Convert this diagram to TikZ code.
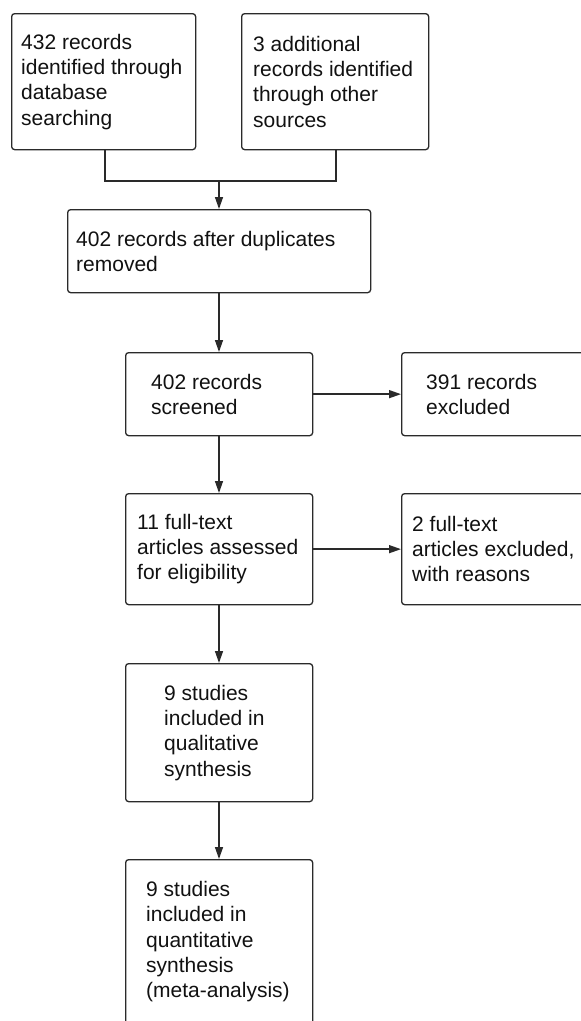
\documentclass[tikz,border=0pt]{standalone}
\usepackage{fontspec}
\setmainfont{Liberation Sans}
\usetikzlibrary{arrows.meta}
\definecolor{ln}{HTML}{2a2a2a}
\definecolor{tx}{HTML}{111111}
\tikzset{
  boxnode/.style={draw=ln, line width=1.3pt, rounded corners=3pt, rectangle, inner sep=0pt, anchor=north west},
  txt/.style={anchor=west, inner sep=0pt, align=left, text=tx, font=\fontsize{21}{25.3}\selectfont},
  conn/.style={draw=ln, line width=1.4pt},
  arr/.style={conn, -{Triangle[length=12pt,width=8pt]}}
}
\newcommand{\mybox}[5]{% name, left, top, right, bottom
  \node[boxnode, minimum width={(#4-#2)*1pt}, minimum height={(#5-#3)*1pt}] (#1) at (#2,#3) {};}
\begin{document}
\begin{tikzpicture}[x=1pt,y=-1pt]
\useasboundingbox (0,0) rectangle (581,1021);
\clip (0,0) rectangle (581,1021);
\fill[white] (0,0) rectangle (581,1021);
\mybox{A}{11}{13}{195}{149}
\mybox{B}{241}{13}{428}{149}
\mybox{C}{67}{209}{370}{292}
\mybox{D}{125}{352}{312}{435}
\mybox{E}{401}{352}{600}{435}
\mybox{F}{125}{493}{312}{604}
\mybox{G}{401}{493}{600}{604}
\mybox{H}{125}{663}{312}{801}
\mybox{I}{125}{859}{312}{1045}
\node[txt] (tA) at ([xshift=10pt]A.west) {432 records\\identified through\\database\\searching};
\node[txt] (tB) at ([xshift=12pt]B.west) {3 additional\\records identified\\through other\\sources};
\node[txt] (tC) at ([xshift=9pt]C.west) {402 records after duplicates\\removed};
\node[txt] (tD) at ([xshift=26pt]D.west) {402 records\\screened};
\node[txt] (tE) at ([xshift=25pt]E.west) {391 records\\excluded};
\node[txt] (tF) at ([xshift=12pt]F.west) {11 full-text\\articles assessed\\for eligibility};
\node[txt] (tG) at ([xshift=11pt]G.west) {2 full-text\\articles excluded,\\with reasons};
\node[txt] (tH) at ([xshift=39pt]H.west) {9 studies\\included in\\qualitative\\synthesis};
\node[txt, anchor=north west] (tI) at ([xshift=21pt,yshift=-22pt]I.north west) {9 studies\\included in\\quantitative\\synthesis\\(meta-analysis)};
\coordinate (jA) at (105,181);
\coordinate (jB) at (336,181);
\coordinate (jM) at (219,181);
\draw[conn] (A.south -| jA) -- (jA) -- (jB) -- (B.south -| jB);
\draw[arr] (jM) -- (C.north -| jM);
\draw[arr] (C.south -| jM) -- (D.north -| jM);
\draw[arr] (D.south -| jM) -- (F.north -| jM);
\draw[arr] (F.south -| jM) -- (H.north -| jM);
\draw[arr] (H.south -| jM) -- (I.north -| jM);
\draw[arr] (D.east) -- (E.west |- D.east);
\draw[arr] (F.east) -- (G.west |- F.east);
\end{tikzpicture}
\end{document}
